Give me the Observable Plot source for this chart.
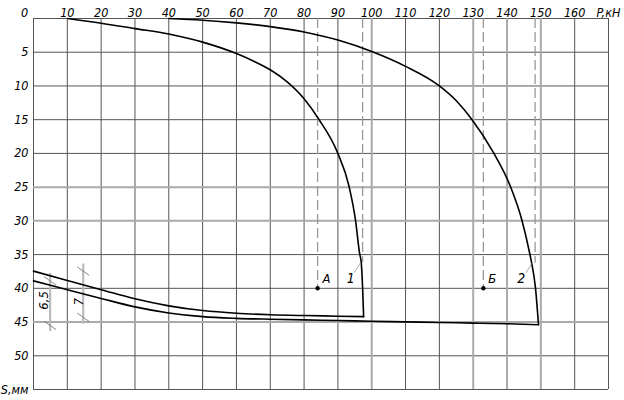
<!DOCTYPE html>
<html><head><meta charset="utf-8">
<script src="https://cdn.jsdelivr.net/npm/d3@7"></script>
<script src="https://cdn.jsdelivr.net/npm/@observablehq/plot@0.6"></script>
<style>
body{margin:0;background:#fff;}
#chart svg{font-family:"DejaVu Sans Condensed","DejaVu Sans",sans-serif;font-stretch:condensed;font-style:italic;}
</style></head><body><div id="chart"></div>
<script>
// Axis ticks and labels
const pTicks = [0,10,20,30,40,50,60,70,80,90,100,110,120,130,140,150,160,170];
const pTickLabels = ["0","10","20","30","40","50","60","70","80","90","100","110","120","130","140","150","160","P,кН"];
const sTicks = [0,5,10,15,20,25,30,35,40,45,50,55];
const sTickLabels = ["","5","10","15","20","25","30","35","40","45","50","S,мм"];

// Curve 1: loading branch
const load1P = [10,20,30,40,50,60,65,70,75,80,84.3,89.9,93.3,95.2,96.4,96.9,97.3,97.6];
const load1S = [0,0.7,1.5,2.3,3.5,5.2,6.3,7.6,9.4,11.9,14.9,19.9,24.9,29.9,34.8,36.2,39.9,44.2];
// Curve 1: unloading branch (listed by increasing load)
const unload1P = [0,10,20,30,40,50,60,70,80,90,97.6];
const unload1S = [37.45,38.85,40.2,41.55,42.6,43.3,43.7,43.92,44.04,44.13,44.2];
// Curve 2: loading branch
const load2P = [40,50,60,70,80,90,100,110,120,125,129.5,136,141,144.4,146.7,147.3,148.4,149.3];
const load2S = [0,0.25,0.65,1.2,2.0,3.2,4.9,7.1,10.0,12.2,14.9,19.9,24.9,29.9,34.8,36.3,39.9,45.4];
// Curve 2: unloading branch (listed by increasing load)
const unload2P = [0,10,20,30,40,50,60,70,80,90,100,110,120,130,140,149.3];
const unload2S = [38.9,40.2,41.5,42.75,43.65,44.2,44.45,44.58,44.68,44.78,44.88,44.98,45.07,45.16,45.25,45.4];

// Reference points
const pointNames = ["A","Б"];
const pointP = [84,133];
const pointS = [40,40];
// Limit-load dashed lines
const limitP = [97.3,148.3];
const limitS = [36.2,36.3];
// Curve numbers
const curveNames = ["1","2"];
const curveLabelP = [93.8,144.2];
const curveLabelS = [38.5,38.5];
const leaderFromP = [94.8,145.6], leaderFromS = [37.7,37.7];
const leaderToP = [96.7,147.3], leaderToS = [36.2,36.3];
// Rebound dimensions
const dimNames = ["6,5","7"];
const dimP = [4.9,14.7];
const dimTopS = [37.8,36.4];
const dimBotS = [46.4,45.3];
const dimFromS = [38.9,37.45];
const dimToS = [45.5,44.3];
const dimLabelP = [3.2,13.3];
const dimLabelS = [41.8,42.0];

const zip = (a,b) => a.map((v,i)=>({P:v,S:b[i]}));
const ink = "#000";
const gridColor = "#555";
const softP = new Set([100,130,140,150]);
const softS = new Set([25,30,45]);

const tickIdx = d3.range(pTicks.length);
const sIdx = d3.range(sTicks.length);

const line = (data) => Plot.line(data, {x:"P", y:"S", stroke: ink, strokeWidth: 1.6, curve: "monotone-x"});

const plot = Plot.plot({
  width: 624, height: 400,
  marginLeft: 33, marginRight: 16, marginTop: 18, marginBottom: 11,
  x: {domain: [0,170], axis: null},
  y: {domain: [0,55], reverse: true, axis: null},
  style: {fontSize: "12.5px", background: "#fff"},
  marks: [
    // grid
    Plot.ruleX(pTicks.filter(t=>!softP.has(t)), {stroke: gridColor, strokeWidth: 1}),
    Plot.ruleY(sTicks.filter(t=>!softS.has(t)), {stroke: gridColor, strokeWidth: 1}),
    Plot.ruleX(pTicks.filter(t=>softP.has(t)), {stroke: "#aaa", strokeWidth: 2}),
    Plot.ruleY(sTicks.filter(t=>softS.has(t)), {stroke: "#aaa", strokeWidth: 2}),
    // dashed verticals from top to points / limit
    Plot.ruleX(pointP.map((p,i)=>({P:p,S:pointS[i]})), {x:"P", y1: 0, y2:"S", stroke:"#999", strokeWidth:1.3, strokeDasharray:"10,4"}),
    Plot.ruleX(limitP.map((p,i)=>({P:p,S:limitS[i]})), {x:"P", y1: 0, y2:"S", stroke:"#999", strokeWidth:1.3, strokeDasharray:"10,4"}),
    // rebound dimension lines
    Plot.ruleX(dimP.map((p,i)=>({P:p,a:dimTopS[i],b:dimBotS[i]})), {x:"P", y1:"a", y2:"b", stroke:"#bbb", strokeWidth:2.2}),
    Plot.vector(dimP.flatMap((p,i)=>[{P:p,S:dimFromS[i]},{P:p,S:dimToS[i]}]), {
      x:"P", y:"S", length: 14, rotate: 125, anchor:"middle", stroke:"#777", strokeWidth:0.8,
      shape: {draw(ctx, l){ ctx.moveTo(0,0); ctx.lineTo(0,-l); }}
    }),
    Plot.text(dimNames.map((n,i)=>({n,P:dimLabelP[i],S:dimLabelS[i]})), {x:"P", y:"S", text:"n", rotate:-90, fill: ink, fontSize: 13}),
    // curves
    line(zip(load1P,load1S)),
    line(zip(unload1P,unload1S)),
    line(zip(load2P,load2S)),
    line(zip(unload2P,unload2S)),
    // points
    Plot.dot(pointP.map((p,i)=>({P:p,S:pointS[i]})), {x:"P", y:"S", r:2.2, fill: ink}),
    Plot.text(pointNames.map((n,i)=>({n,P:pointP[i]+2.6,S:pointS[i]-1.4})), {x:"P", y:"S", text:"n", fill: ink, fontSize: 13}),
    // curve labels and leaders
    Plot.link(curveNames.map((n,i)=>({a:leaderFromP[i],b:leaderFromS[i],c:leaderToP[i],d:leaderToS[i]})), {x1:"a", y1:"b", x2:"c", y2:"d", stroke:"#999", strokeWidth:0.8}),
    Plot.text(curveNames.map((n,i)=>({n,P:curveLabelP[i],S:curveLabelS[i]})), {x:"P", y:"S", text:"n", fill: ink, fontSize: 14}),
    // tick labels
    Plot.text(tickIdx.filter(i=>i>0), {x: i=>pTicks[i], frameAnchor:"top", text: i=>pTickLabels[i], lineAnchor:"bottom", dy:-2, fill: ink}),
    Plot.text([0], {x: i=>pTicks[i], frameAnchor:"top", text: i=>pTickLabels[i], lineAnchor:"bottom", dy:-2, dx:-9, fill: ink}),
    Plot.text(sIdx, {y: i=>sTicks[i], frameAnchor:"left", text: i=>sTickLabels[i], textAnchor:"end", dx:-5, fill: ink})
  ]
});
document.getElementById("chart").appendChild(plot);
</script>
</body></html>
